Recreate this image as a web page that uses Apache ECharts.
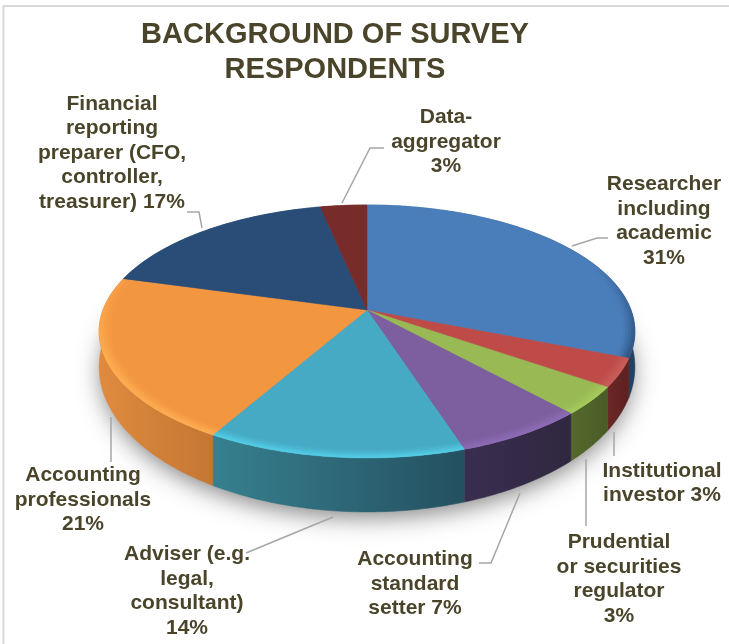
<!DOCTYPE html>
<html>
<head>
<meta charset="utf-8">
<style>
  html, body { margin: 0; padding: 0; background: #fff; }
  #chart_con { width: 729px; height: 644px; }
</style>
<script src="https://cdn.jsdelivr.net/npm/echarts@6/dist/echarts.min.js"></script>
</head>
<body>
<div id="chart_con"></div>
<script>
// slice shares, clockwise from 12 o'clock
var categories = ['Researcher including academic', 'Institutional investor', 'Prudential or securities regulator',
    'Accounting standard setter', 'Adviser', 'Accounting professionals', 'Financial reporting preparer', 'Data-aggregator'];
var seriesValues = [31, 3.6, 3.6, 6.8, 13.3, 21, 17.4, 3.3];
var topColors = ['#4a7ebb', '#be4b48', '#98b954', '#7d5fa0', '#46aac5', '#f39640', '#2a4d78', '#772c2a'];
var sideLeftColors = ['#3a659b', '#6b2725', '#55692c', '#3a2e50', '#37808f', '#e08a3e', '#2a4d78', '#772c2a'];
var sideRightColors = ['#24405f', '#5c2120', '#4a5c26', '#2f2740', '#245060', '#c47733', '#2a4d78', '#772c2a'];
var rimColors = ['#2a4c76', '#c9605c', '#a8cc5e', '#8f6db8', '#55d0ea', '#ffb054', '#2a4d78', '#772c2a'];

var labelTexts = [
    'Researcher\nincluding\nacademic\n31%',
    'Institutional\ninvestor 3%',
    'Prudential\nor securities\nregulator\n3%',
    'Accounting\nstandard\nsetter 7%',
    'Adviser (e.g.\nlegal,\nconsultant)\n14%',
    'Accounting\nprofessionals\n21%',
    'Financial\nreporting\npreparer (CFO,\ncontroller,\ntreasurer) 17%',
    'Data-\naggregator\n3%'
];
var labelCenters = [[664, 221], [662, 483], [619, 579], [415, 584], [187, 591], [83, 500], [112, 153], [446, 142]];
var leaderLines = [
    [[608, 238], [597, 238], [572, 246]],
    [[614, 432], [614, 456]],
    [[586, 459], [586, 526]],
    [[520, 493], [491, 563], [479, 563]],
    [[333, 517], [246, 553]],
    [[111, 417], [111, 462]],
    [[187, 212], [199, 212], [202, 228]],
    [[384, 148], [370, 148], [342, 203]]
];

var textColor = '#4a452a';
var total = seriesValues.reduce(function (a, b) { return a + b; }, 0);

// perspective of the disc: centre, half width, half height and tilt
var discX = 367, topY = 310, bottomY = 342.3, discA = 264, topB = 122.85, bottomB = 140.8, tilt = 0.17;

function project(deg, r, y0, b) {
    var t = deg * Math.PI / 180;
    var u = r * Math.sin(t), v = -r * Math.cos(t);
    var w = 1 - tilt * v;
    return [discX + discA * u / w, y0 + b * v / w];
}
function arc(from, to, r, y0, b) {
    var pts = [];
    var n = Math.max(2, Math.ceil(to - from));
    for (var i = 0; i <= n; i++) {
        pts.push(project(from + (to - from) * i / n, r, y0, b));
    }
    return pts;
}
function sliceRange(idx) {
    var sum = 0;
    for (var i = 0; i < idx; i++) sum += seriesValues[i];
    return [sum / total * 360, (sum + seriesValues[idx]) / total * 360];
}

function renderSide(params, api) {
    var idx = params.dataIndex;
    var r = sliceRange(idx);
    var upper = arc(r[0], r[1], 1, topY, topB);
    var lower = arc(r[0], r[1], 1, bottomY, bottomB).reverse();
    var pts = upper.concat(lower);
    var xs = pts.map(function (p) { return p[0]; });
    var children = [];
    if (idx === 0) {
        children.push({
            type: 'polygon',
            shape: { points: arc(0, 360, 0.99, bottomY, bottomB) },
            style: { fill: '#888', shadowBlur: 24, shadowColor: 'rgba(0,0,0,0.5)', shadowOffsetY: 7 }
        });
    }
    var fill = new echarts.graphic.LinearGradient(Math.min.apply(null, xs), 0, Math.max.apply(null, xs), 0, [
        { offset: 0, color: sideLeftColors[idx] },
        { offset: 1, color: sideRightColors[idx] }
    ], true);
    children.push({ type: 'polygon', shape: { points: pts }, style: { fill: fill, stroke: fill, lineWidth: 0.5 } });
    return { type: 'group', children: children };
}

var rimBands = [[0.955, 0.12], [0.965, 0.2], [0.975, 0.32], [0.985, 0.45], [0.993, 0.4]];

function renderTop(params, api) {
    var idx = params.dataIndex;
    var r = sliceRange(idx);
    var pts = [project(0, 0, topY, topB)].concat(arc(r[0], r[1], 1, topY, topB));
    var children = [{
        type: 'polygon',
        shape: { points: pts },
        style: { fill: topColors[idx], stroke: topColors[idx], lineWidth: 0.5 }
    }];
    // bevel along the rim, fading out towards the back
    rimBands.forEach(function (band) {
        var ring = arc(r[0], r[1], band[0], topY, topB).concat(arc(r[0], r[1], 1, topY, topB).reverse());
        children.push({
            type: 'polygon',
            shape: { points: ring },
            style: {
                fill: new echarts.graphic.LinearGradient(0, 264, 0, 363, [
                    { offset: 0, color: echarts.color.modifyAlpha(rimColors[idx], 0) },
                    { offset: 1, color: echarts.color.modifyAlpha(rimColors[idx], band[1]) }
                ], true)
            }
        });
    });
    return { type: 'group', children: children };
}

var graphicItems = [{
    type: 'rect',
    shape: { x: 3.5, y: 6, width: 740, height: 660 },
    style: { fill: 'transparent', stroke: '#d9d9d9', lineWidth: 2 },
    silent: true
}];
leaderLines.forEach(function (line) {
    graphicItems.push({
        type: 'polyline',
        z: 20,
        shape: { points: line },
        style: { fill: 'none', stroke: '#a6a6a6', lineWidth: 1.5 },
        silent: true
    });
});
labelTexts.forEach(function (txt, i) {
    graphicItems.push({
        type: 'text',
        z: 21,
        x: labelCenters[i][0],
        y: labelCenters[i][1],
        style: {
            text: txt,
            fill: textColor,
            font: 'bold 21px "Liberation Sans", Arial, sans-serif',
            lineHeight: 24.5,
            align: 'center',
            verticalAlign: 'middle'
        },
        silent: true
    });
});

var chart = echarts.init(document.getElementById('chart_con'), null, { renderer: 'canvas' });
chart.setOption({
    animation: false,
    backgroundColor: '#fff',
    title: {
        text: 'BACKGROUND OF SURVEY\nRESPONDENTS',
        left: 330,
        top: 12,
        textAlign: 'center',
        textStyle: {
            color: textColor,
            fontFamily: '"Liberation Sans", Arial, sans-serif',
            fontWeight: 'bold',
            fontSize: 29,
            lineHeight: 35
        }
    },
    graphic: graphicItems,
    series: [
        {
            type: 'custom',
            name: 'sides',
            coordinateSystem: 'none',
            z: 2,
            silent: true,
            renderItem: renderSide,
            data: seriesValues.map(function (v, i) { return { name: categories[i], value: [v] }; })
        },
        {
            type: 'custom',
            name: 'tops',
            coordinateSystem: 'none',
            z: 3,
            silent: true,
            renderItem: renderTop,
            data: seriesValues.map(function (v, i) { return { name: categories[i], value: [v] }; })
        }
    ]
});
</script>
</body>
</html>
